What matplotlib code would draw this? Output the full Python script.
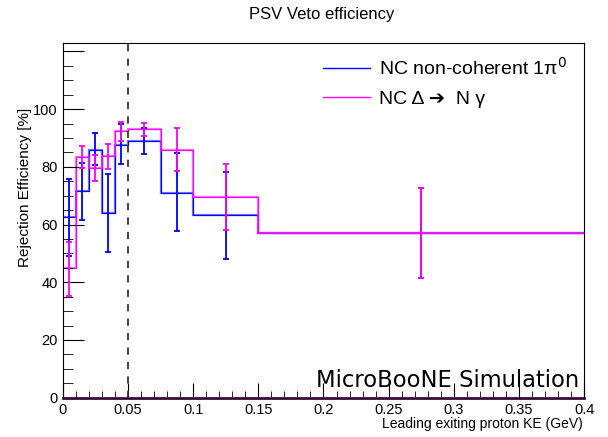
import matplotlib
matplotlib.use("Agg")
import matplotlib.pyplot as plt
import numpy as np

# bin edges in leading proton KE (GeV)
edges = [0, 0.01, 0.02, 0.03, 0.04, 0.05, 0.075, 0.1, 0.15, 0.4]

# NC non-coherent 1pi0
pi0_eff = [62.5, 71.5, 86.0, 63.9, 87.6, 88.9, 71.1, 63.2, 57.0]
pi0_hi = [75.8, 81.2, 91.7, 77.4, 95.0, 93.3, 84.7, 78.3, 72.6]
pi0_lo = [49.2, 61.7, 80.5, 50.6, 80.9, 84.5, 57.6, 48.1, 41.5]

# NC Delta -> N gamma
dng_eff = [44.8, 83.4, 79.5, 83.6, 92.4, 93.0, 85.8, 69.4, 57.0]
dng_hi = [54.0, 87.2, 84.1, 87.8, 95.4, 95.3, 93.3, 81.1, 72.6]
dng_lo = [35.3, 79.5, 75.1, 79.1, 89.0, 90.8, 78.4, 58.0, 41.5]

xtick_labels = ['0', '0.05', '0.1', '0.15', '0.2', '0.25', '0.3', '0.35', '0.4']
ytick_labels = ['0', '20', '40', '60', '80', '100', '']

plt.rcParams['font.family'] = ['Liberation Sans', 'DejaVu Sans']

fig = plt.figure(figsize=(6.08, 4.37), dpi=100)
ax = fig.add_axes([62.7/608, 1 - 397.7/437, (584.3-62.7)/608, (397.7-43.3)/437])

edges = np.array(edges)
centers = 0.5*(edges[1:] + edges[:-1])

def draw(eff, hi, lo, col, lab):
    eff = np.array(eff)
    ax.stairs(eff, edges, baseline=None, color=col, lw=1.6, alpha=0.55)
    ax.stairs(eff, edges, baseline=None, color=col, lw=0.8)
    ax.errorbar(centers, eff, yerr=[eff - np.array(lo), np.array(hi) - eff],
                fmt='none', ecolor=col, elinewidth=1.3, capsize=2, capthick=1.3)
    ax.plot([], [], color=col, lw=1, label=lab)

draw(pi0_eff, pi0_hi, pi0_lo, '#0000ff', 'NC non-coherent 1π$^0$')
draw(dng_eff, dng_hi, dng_lo, '#ff00ff', 'NC Δ ➔  N γ')

ax.axvline(0.05, color='#333333', ls=(0, (4, 4)), lw=1.3)

ax.set_xlim(0, 0.4)
ax.set_ylim(0, 122.8)
ax.set_xticks(np.arange(0, 0.401, 0.05))
ax.set_xticklabels(xtick_labels)
ax.set_xticks(np.arange(0, 0.401, 0.01), minor=True)
ax.set_yticks(np.arange(0, 121, 20))
ax.set_yticklabels(ytick_labels)
ax.set_yticks(np.arange(0, 121, 5), minor=True)
ax.tick_params(which='both', direction='in', labelsize=10.5, top=False, right=False)
ax.tick_params(axis='x', which='major', length=11)
ax.tick_params(axis='x', which='minor', length=5)
ax.tick_params(axis='y', which='major', length=15)
ax.tick_params(axis='y', which='minor', length=7)
ax.spines['bottom'].set_color('#3a0a3a')
ax.spines['bottom'].set_linewidth(2)

ax.legend(loc='upper right', frameon=False, fontsize=14, handlelength=2.4,
          handletextpad=0.5, borderpad=0, borderaxespad=0,
          bbox_to_anchor=(0.968, 0.963), labelspacing=0.6)

fig.text(322/608, 1 - 14/437, 'PSV Veto efficiency', ha='center', va='center', fontsize=12)
fig.text(25/608, 1 - 187/437, 'Rejection Efficiency [%]', ha='center', va='center',
         rotation=90, fontsize=11)
fig.text(583/608, 1 - 424/437, 'Leading exiting proton KE (GeV)', ha='right',
         va='center', fontsize=10)
ax.text(0.99, 0.015, 'MicroBooNE Simulation', transform=ax.transAxes, ha='right',
        va='bottom', fontsize=16.3, family='DejaVu Sans')

fig.savefig('out.png', dpi=100)
